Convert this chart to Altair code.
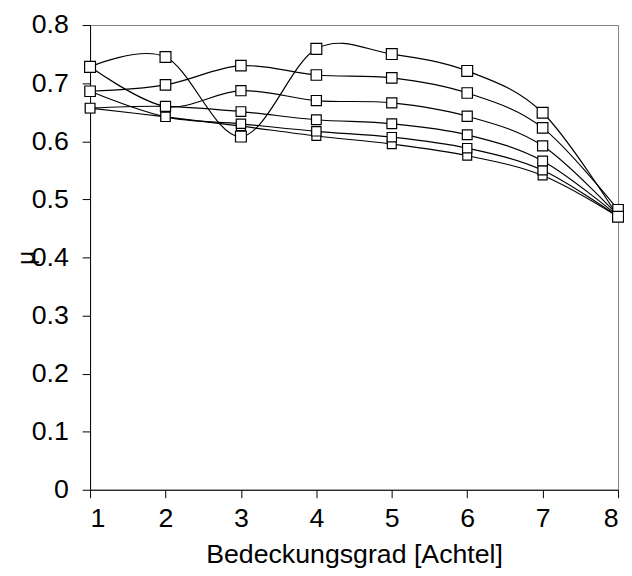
import altair as alt
import pandas as pd

x_vals = [1, 2, 3, 4, 5, 6, 7, 8]
series_names = ["A", "B", "C", "D", "E", "F"]
s_A = [0.728, 0.745, 0.608, 0.759, 0.750, 0.721, 0.649, 0.470]
s_B = [0.686, 0.697, 0.730, 0.714, 0.709, 0.683, 0.623, 0.482]
s_C = [0.728, 0.660, 0.687, 0.670, 0.666, 0.643, 0.592, 0.472]
s_D = [0.657, 0.660, 0.651, 0.637, 0.630, 0.611, 0.566, 0.471]
s_E = [0.686, 0.642, 0.630, 0.617, 0.607, 0.588, 0.550, 0.470]
s_F = [0.657, 0.642, 0.626, 0.609, 0.595, 0.575, 0.541, 0.470]
y_ticks = [0, 0.1, 0.2, 0.3, 0.4, 0.5, 0.6, 0.7, 0.8]

all_series = {"A": s_A, "B": s_B, "C": s_C, "D": s_D, "E": s_E, "F": s_F}
rows = []
for name in reversed(series_names):
    for xv, yv in zip(x_vals, all_series[name]):
        rows.append({"series": name, "x": xv, "y": yv})
df = pd.DataFrame(rows)

FONT = "Liberation Sans"
FS = 27

x_enc = alt.X("x:Q", scale=alt.Scale(domain=[1, 8], nice=False, zero=False),
              axis=alt.Axis(values=x_vals, format="d", title="Bedeckungsgrad [Achtel]",
                            grid=False, tickSize=8, labelPadding=8, titleY=66,
                            titleBaseline="middle"))
y_enc = alt.Y("y:Q", scale=alt.Scale(domain=[0, 0.8], nice=False),
              axis=alt.Axis(values=y_ticks, format=".1~f", title="μ", grid=False,
                            tickSize=8, labelPadding=14, titleX=-65, titleY=235,
                            titleFontSize=25,
                            titleAlign="center", titleBaseline="middle", titleAngle=270))

lines = alt.Chart(df).mark_line(interpolate="cardinal", tension=0, color="black",
                                strokeWidth=1.2).encode(
    x=x_enc, y=y_enc, detail="series:N")

points = alt.Chart(df).mark_point(shape="square", filled=True, fill="white",
                                  stroke="black", strokeWidth=1.2, opacity=1).encode(
    x="x:Q", y="y:Q",
    size=alt.Size("series:N", scale=alt.Scale(domain=series_names,
                                              range=[121, 81, 64, 42, 30, 20]),
                  legend=None))

chart = alt.layer(lines, points).properties(
    width=534, height=470,
    padding={"left": 83, "top": 14, "right": 6, "bottom": 84},
    autosize=alt.AutoSizeParams(type="none"),
    background="white",
).configure_view(stroke="#808080", strokeWidth=1).configure_axis(
    domainColor="black", tickColor="black", labelColor="black", titleColor="black",
    labelFont=FONT, titleFont=FONT, labelFontSize=FS, titleFontSize=FS,
    titleFontWeight="normal", domainWidth=1, tickWidth=1,
)

chart.save("out.html", embed_options={"renderer": "svg", "actions": False})
